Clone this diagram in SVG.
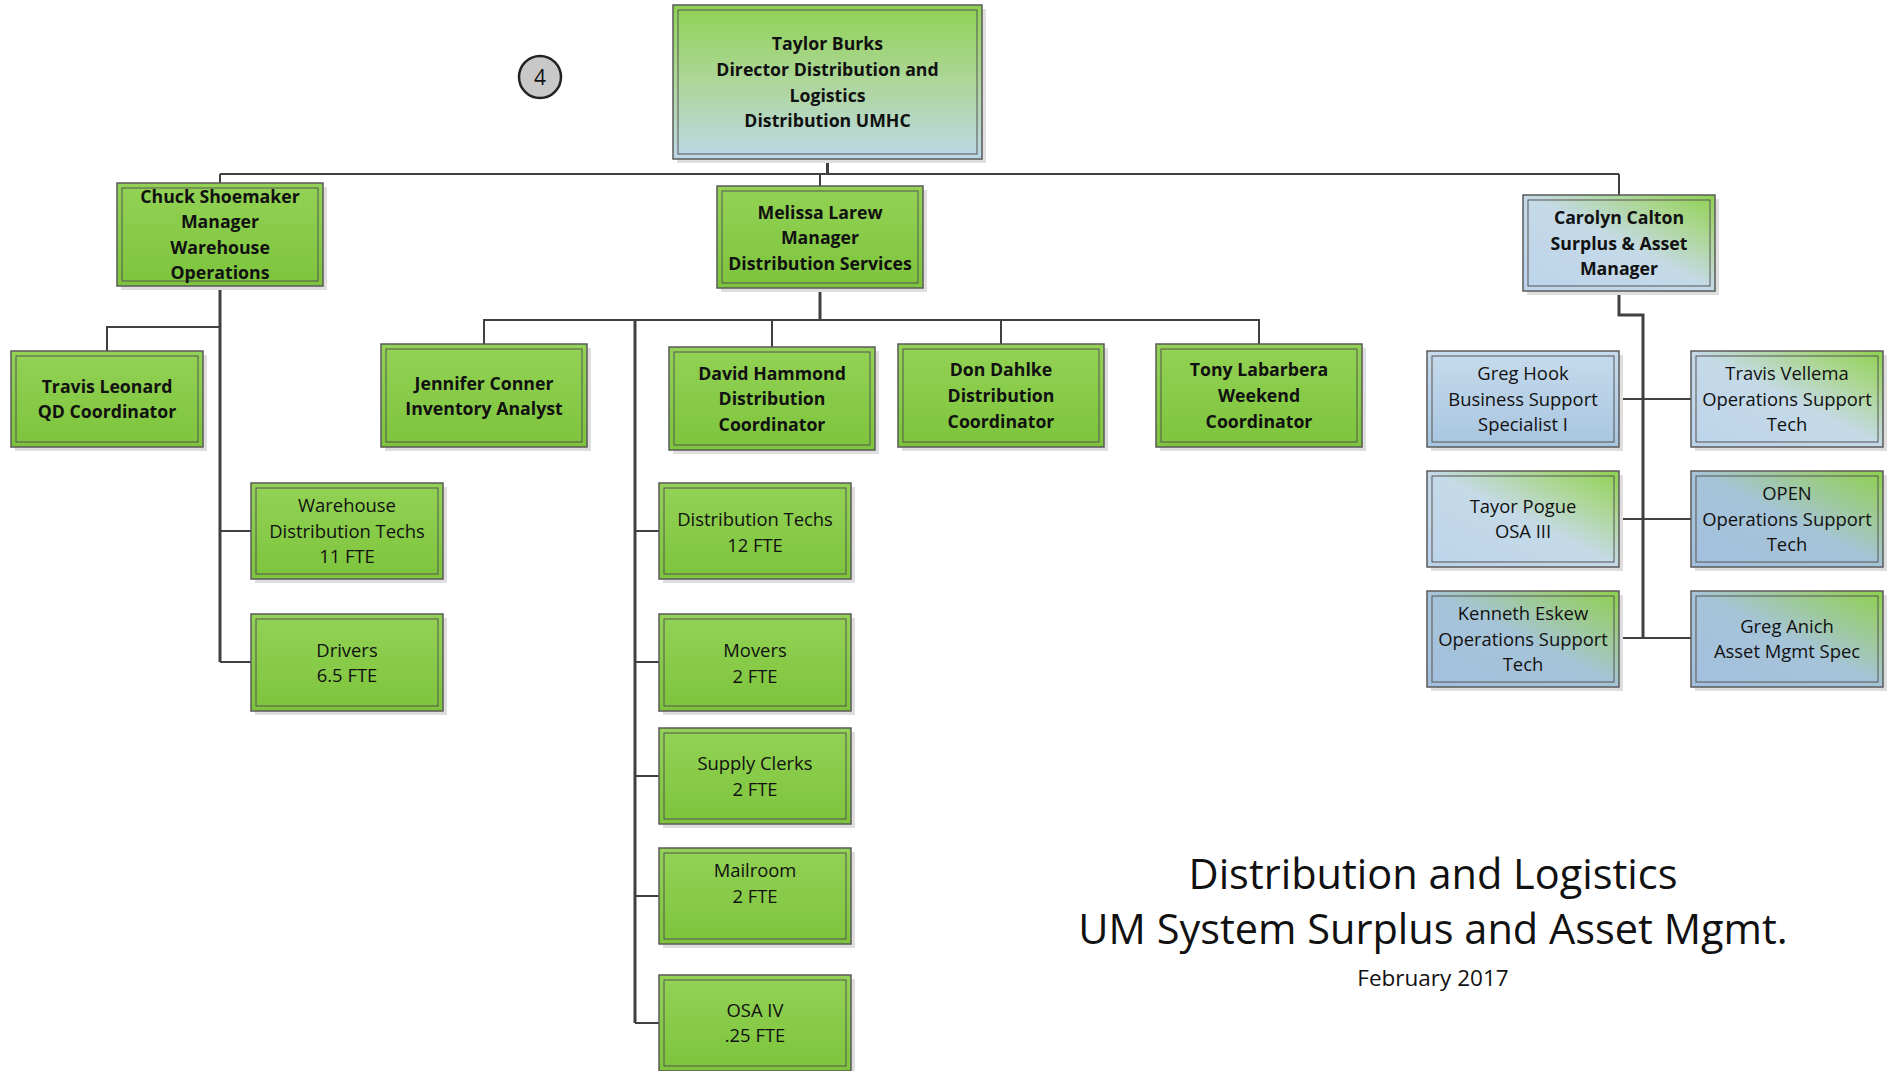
<svg xmlns="http://www.w3.org/2000/svg" width="1892" height="1071" viewBox="0 0 1892 1071">
<defs>
<linearGradient id="gGreen" x1="0" y1="0" x2="0" y2="1">
<stop offset="0" stop-color="#93d255"/>
<stop offset="1" stop-color="#7dc43c"/>
</linearGradient>
<linearGradient id="gTop" x1="0" y1="0" x2="0" y2="1">
<stop offset="0" stop-color="#8fd253"/>
<stop offset="0.5" stop-color="#aed69a"/>
<stop offset="1" stop-color="#bcd8e8"/>
</linearGradient>
<linearGradient id="gBlueLight" x1="0" y1="0" x2="0" y2="1">
<stop offset="0" stop-color="#c6dbec"/>
<stop offset="1" stop-color="#a8c5e0"/>
</linearGradient>
<linearGradient id="gMixLight" x1="0" y1="1" x2="1" y2="0">
<stop offset="0" stop-color="#bcd3ea"/>
<stop offset="0.5" stop-color="#c5dae8"/>
<stop offset="0.78" stop-color="#abd68f"/>
<stop offset="1" stop-color="#8fd150"/>
</linearGradient>
<linearGradient id="gMixDark" x1="0" y1="1" x2="1" y2="0">
<stop offset="0" stop-color="#a3bfde"/>
<stop offset="0.5" stop-color="#a6c4d8"/>
<stop offset="0.8" stop-color="#9bcb84"/>
<stop offset="1" stop-color="#8ed04e"/>
</linearGradient>
</defs>
<style>
.sh{fill:#dedede}
.box{stroke:#5a5a5a;stroke-width:1.5}
.in{fill:none;stroke:#555;stroke-width:1}
.g{fill:url(#gGreen)}
text{font-family:"Open Sans","Liberation Sans",sans-serif;fill:#111;text-anchor:middle}
.b{font-weight:bold;font-size:17.7px}
.r{font-size:18.4px}
.c{fill:none;stroke:#404040;stroke-width:2}
.t{stroke-width:3}
.title{font-size:41.5px}
</style>

<g id="connectors">
<path class="c" d="M220,174 H1619"/>
<path class="c t" d="M827.5,159 V174"/>
<path class="c" d="M820,174 V186"/>
<path class="c" d="M220,174 V183"/>
<path class="c" d="M1619,174 V195"/>
<path class="c t" d="M220,286 V662"/>
<path class="c" d="M220,327 H107 V351"/>
<path class="c" d="M220,531 H251 M220,662 H251"/>
<path class="c t" d="M820,288 V320"/>
<path class="c" d="M484,344 V320 H1259 V344"/>
<path class="c" d="M772,320 V347 M1001,320 V344"/>
<path class="c t" d="M635,320 V1023"/>
<path class="c" d="M635,531 H659 M635,662 H659 M635,776 H659 M635,896 H659 M635,1023 H659"/>
<path class="c t" d="M1619,291 V315 H1643 V638"/>
<path class="c" d="M1619,399 H1691 M1619,519 H1691 M1619,638 H1691"/>
</g>

<g id="badge">
<circle cx="540" cy="77" r="21" fill="#c8c8c8" stroke="#222" stroke-width="2.5"/>
<text x="540" y="84.5" style="font-size:21px">4</text>
</g>

<g id="taylor">
<rect class="sh" x="677" y="9" width="309" height="154"/>
<rect class="box" fill="url(#gTop)" x="673" y="5" width="309" height="154"/>
<rect class="in" x="678" y="10" width="299" height="144"/>
<text class="b" x="827.5"><tspan x="827.5" y="49.5">Taylor Burks</tspan><tspan x="827.5" y="75.5">Director Distribution and</tspan><tspan x="827.5" y="101.5">Logistics</tspan><tspan x="827.5" y="126.5">Distribution UMHC</tspan></text>
</g>

<g id="chuck">
<rect class="sh" x="121" y="187" width="206" height="103"/>
<rect class="box g" x="117" y="183" width="206" height="103"/>
<rect class="in" x="122" y="188" width="196" height="93"/>
<text class="b"><tspan x="220" y="202.5">Chuck Shoemaker</tspan><tspan x="220" y="228.2">Manager</tspan><tspan x="220" y="253.8">Warehouse</tspan><tspan x="220" y="279.2">Operations</tspan></text>
</g>

<g id="melissa">
<rect class="sh" x="721" y="190" width="206" height="102"/>
<rect class="box g" x="717" y="186" width="206" height="102"/>
<rect class="in" x="722" y="191" width="196" height="92"/>
<text class="b"><tspan x="820" y="218.5">Melissa Larew</tspan><tspan x="820" y="244.2">Manager</tspan><tspan x="820" y="269.8">Distribution Services</tspan></text>
</g>

<g id="carolyn">
<rect class="sh" x="1527" y="199" width="192" height="96"/>
<rect class="box" fill="url(#gMixLight)" x="1523" y="195" width="192" height="96"/>
<rect class="in" x="1528" y="200" width="182" height="86"/>
<text class="b"><tspan x="1619" y="223.8">Carolyn Calton</tspan><tspan x="1619" y="249.8">Surplus &amp; Asset</tspan><tspan x="1619" y="274.8">Manager</tspan></text>
</g>

<g id="travis-leonard">
<rect class="sh" x="15" y="355" width="192" height="96"/>
<rect class="box g" x="11" y="351" width="192" height="96"/>
<rect class="in" x="16" y="356" width="182" height="86"/>
<text class="b"><tspan x="107" y="393.2">Travis Leonard</tspan><tspan x="107" y="418.2">QD Coordinator</tspan></text>
</g>

<g id="jennifer">
<rect class="sh" x="385" y="348" width="206" height="103"/>
<rect class="box g" x="381" y="344" width="206" height="103"/>
<rect class="in" x="386" y="349" width="196" height="93"/>
<text class="b"><tspan x="484" y="389.8">Jennifer Conner</tspan><tspan x="484" y="414.8">Inventory Analyst</tspan></text>
</g>

<g id="david">
<rect class="sh" x="673" y="351" width="206" height="103"/>
<rect class="box g" x="669" y="347" width="206" height="103"/>
<rect class="in" x="674" y="352" width="196" height="93"/>
<text class="b"><tspan x="772" y="379.8">David Hammond</tspan><tspan x="772" y="404.8">Distribution</tspan><tspan x="772" y="430.8">Coordinator</tspan></text>
</g>

<g id="don">
<rect class="sh" x="902" y="348" width="206" height="103"/>
<rect class="box g" x="898" y="344" width="206" height="103"/>
<rect class="in" x="903" y="349" width="196" height="93"/>
<text class="b"><tspan x="1001" y="375.8">Don Dahlke</tspan><tspan x="1001" y="401.8">Distribution</tspan><tspan x="1001" y="427.5">Coordinator</tspan></text>
</g>

<g id="tony">
<rect class="sh" x="1160" y="348" width="206" height="103"/>
<rect class="box g" x="1156" y="344" width="206" height="103"/>
<rect class="in" x="1161" y="349" width="196" height="93"/>
<text class="b"><tspan x="1259" y="375.8">Tony Labarbera</tspan><tspan x="1259" y="401.8">Weekend</tspan><tspan x="1259" y="427.5">Coordinator</tspan></text>
</g>

<g id="warehouse-techs">
<rect class="sh" x="255" y="487" width="192" height="96"/>
<rect class="box g" x="251" y="483" width="192" height="96"/>
<rect class="in" x="256" y="488" width="182" height="86"/>
<text class="r"><tspan x="347" y="512.3">Warehouse</tspan><tspan x="347" y="537.6">Distribution Techs</tspan><tspan x="347" y="563.3">11 FTE</tspan></text>
</g>

<g id="drivers">
<rect class="sh" x="255" y="618" width="192" height="97"/>
<rect class="box g" x="251" y="614" width="192" height="97"/>
<rect class="in" x="256" y="619" width="182" height="87"/>
<text class="r"><tspan x="347" y="657.3">Drivers</tspan><tspan x="347" y="682.3">6.5 FTE</tspan></text>
</g>

<g id="distribution-techs">
<rect class="sh" x="663" y="487" width="192" height="96"/>
<rect class="box g" x="659" y="483" width="192" height="96"/>
<rect class="in" x="664" y="488" width="182" height="86"/>
<text class="r"><tspan x="755" y="525.6">Distribution Techs</tspan><tspan x="755" y="551.6">12 FTE</tspan></text>
</g>

<g id="movers">
<rect class="sh" x="663" y="618" width="192" height="97"/>
<rect class="box g" x="659" y="614" width="192" height="97"/>
<rect class="in" x="664" y="619" width="182" height="87"/>
<text class="r"><tspan x="755" y="657.3">Movers</tspan><tspan x="755" y="682.6">2 FTE</tspan></text>
</g>

<g id="supply-clerks">
<rect class="sh" x="663" y="732" width="192" height="96"/>
<rect class="box g" x="659" y="728" width="192" height="96"/>
<rect class="in" x="664" y="733" width="182" height="86"/>
<text class="r"><tspan x="755" y="769.9">Supply Clerks</tspan><tspan x="755" y="795.9">2 FTE</tspan></text>
</g>

<g id="mailroom">
<rect class="sh" x="663" y="852" width="192" height="96"/>
<rect class="box g" x="659" y="848" width="192" height="96"/>
<rect class="in" x="664" y="853" width="182" height="86"/>
<text class="r"><tspan x="755" y="877.3">Mailroom</tspan><tspan x="755" y="903.3">2 FTE</tspan></text>
</g>

<g id="osa-iv">
<rect class="sh" x="663" y="979" width="192" height="96"/>
<rect class="box g" x="659" y="975" width="192" height="96"/>
<rect class="in" x="664" y="980" width="182" height="86"/>
<text class="r"><tspan x="755" y="1017.3">OSA IV</tspan><tspan x="755" y="1041.6">.25 FTE</tspan></text>
</g>

<g id="greg-hook">
<rect class="sh" x="1431" y="355" width="192" height="96"/>
<rect class="box" fill="url(#gBlueLight)" x="1427" y="351" width="192" height="96"/>
<rect class="in" x="1432" y="356" width="182" height="86"/>
<text class="r"><tspan x="1523" y="379.9">Greg Hook</tspan><tspan x="1523" y="405.6">Business Support</tspan><tspan x="1523" y="430.9">Specialist I</tspan></text>
</g>

<g id="travis-vellema">
<rect class="sh" x="1695" y="355" width="192" height="96"/>
<rect class="box" fill="url(#gMixLight)" x="1691" y="351" width="192" height="96"/>
<rect class="in" x="1696" y="356" width="182" height="86"/>
<text class="r"><tspan x="1787" y="379.9">Travis Vellema</tspan><tspan x="1787" y="405.6">Operations Support</tspan><tspan x="1787" y="430.9">Tech</tspan></text>
</g>

<g id="tayor-pogue">
<rect class="sh" x="1431" y="475" width="192" height="96"/>
<rect class="box" fill="url(#gMixLight)" x="1427" y="471" width="192" height="96"/>
<rect class="in" x="1432" y="476" width="182" height="86"/>
<text class="r"><tspan x="1523" y="513.3">Tayor Pogue</tspan><tspan x="1523" y="537.6">OSA III</tspan></text>
</g>

<g id="open">
<rect class="sh" x="1695" y="475" width="192" height="96"/>
<rect class="box" fill="url(#gMixDark)" x="1691" y="471" width="192" height="96"/>
<rect class="in" x="1696" y="476" width="182" height="86"/>
<text class="r"><tspan x="1787" y="499.9">OPEN</tspan><tspan x="1787" y="525.6">Operations Support</tspan><tspan x="1787" y="550.6">Tech</tspan></text>
</g>

<g id="kenneth-eskew">
<rect class="sh" x="1431" y="595" width="192" height="96"/>
<rect class="box" fill="url(#gMixDark)" x="1427" y="591" width="192" height="96"/>
<rect class="in" x="1432" y="596" width="182" height="86"/>
<text class="r"><tspan x="1523" y="619.9">Kenneth Eskew</tspan><tspan x="1523" y="645.6">Operations Support</tspan><tspan x="1523" y="670.6">Tech</tspan></text>
</g>

<g id="greg-anich">
<rect class="sh" x="1695" y="595" width="192" height="96"/>
<rect class="box" fill="url(#gMixDark)" x="1691" y="591" width="192" height="96"/>
<rect class="in" x="1696" y="596" width="182" height="86"/>
<text class="r"><tspan x="1787" y="633.3">Greg Anich</tspan><tspan x="1787" y="658.3">Asset Mgmt Spec</tspan></text>
</g>

<g id="title">
<text class="title" x="1433" y="889">Distribution and Logistics</text>
<text class="title" x="1433" y="944">UM System Surplus and Asset Mgmt.</text>
<text x="1433" y="985.5" style="font-size:22.5px">February 2017</text>
</g>
</svg>
